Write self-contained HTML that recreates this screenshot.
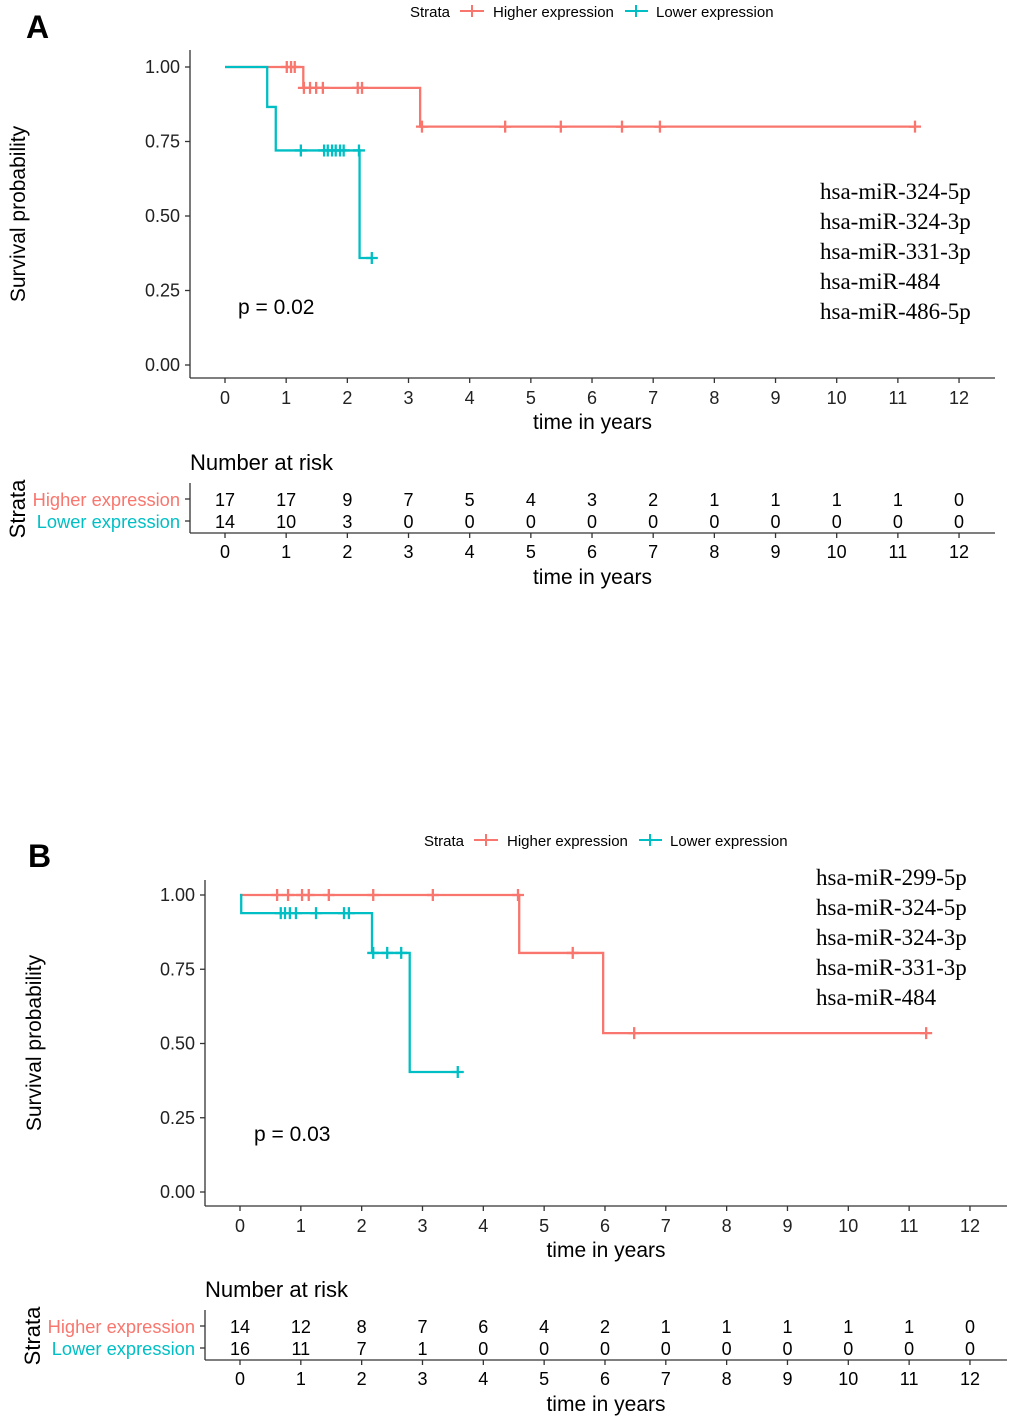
<!DOCTYPE html>
<html><head><meta charset="utf-8"><style>
html,body{margin:0;padding:0;background:#fff;}
svg{display:block;font-family:"Liberation Sans",Arial,sans-serif;}
</style></head><body>
<svg id="c" width="1020" height="1420" viewBox="0 0 1020 1420" xmlns="http://www.w3.org/2000/svg"></svg>
<script>
// ---- Panel A data ----
const aHighSteps = [[0,1.0],[1.28,0.93],[3.19,0.80]];
const aHighEnd = 11.28;
const aHighCensor = [[1.01,1.0],[1.08,1.0],[1.14,1.0],[1.29,0.93],[1.39,0.93],[1.49,0.93],[1.60,0.93],[2.17,0.93],[2.24,0.93],[3.22,0.80],[4.58,0.80],[5.49,0.80],[6.49,0.80],[7.11,0.80],[11.28,0.80]];
const aLowSteps = [[0,1.0],[0.69,0.866],[0.83,0.72],[2.2,0.359]];
const aLowEnd = 2.40;
const aLowCensor = [[1.24,0.72],[1.62,0.72],[1.68,0.72],[1.75,0.72],[1.81,0.72],[1.88,0.72],[1.94,0.72],[2.19,0.72],[2.40,0.359]];
const aRiskHigh = [17,17,9,7,5,4,3,2,1,1,1,1,0];
const aRiskLow = [14,10,3,0,0,0,0,0,0,0,0,0,0];
const aGenes = ["hsa-miR-324-5p","hsa-miR-324-3p","hsa-miR-331-3p","hsa-miR-484","hsa-miR-486-5p"];
// ---- Panel B data ----
const bHighSteps = [[0,1.0],[4.59,0.805],[5.97,0.535]];
const bHighEnd = 11.28;
const bHighCensor = [[0.61,1],[0.79,1],[1.02,1],[1.13,1],[1.46,1],[2.19,1],[3.17,1],[4.57,1],[5.47,0.805],[6.48,0.535],[11.28,0.535]];
const bLowSteps = [[0,1.0],[0.02,0.939],[2.17,0.805],[2.79,0.404]];
const bLowEnd = 3.58;
const bLowCensor = [[0.67,0.939],[0.74,0.939],[0.82,0.939],[0.92,0.939],[1.25,0.939],[1.71,0.939],[1.79,0.939],[2.19,0.805],[2.42,0.805],[2.65,0.805],[3.58,0.404]];
const bRiskHigh = [14,12,8,7,6,4,2,1,1,1,1,1,0];
const bRiskLow = [16,11,7,1,0,0,0,0,0,0,0,0,0];
const bGenes = ["hsa-miR-299-5p","hsa-miR-324-5p","hsa-miR-324-3p","hsa-miR-331-3p","hsa-miR-484"];
const xTicks = [0,1,2,3,4,5,6,7,8,9,10,11,12];
const yTicks = [0,0.25,0.5,0.75,1.0];
const yTickLabels = ["0.00","0.25","0.50","0.75","1.00"];

const RED="#F8766D", CYAN="#00BFC4";
const svg=document.getElementById('c');
const NS="http://www.w3.org/2000/svg";
function el(tag,attrs,parent,text){const e=document.createElementNS(NS,tag);for(const k in attrs)e.setAttribute(k,attrs[k]);if(text!==undefined)e.textContent=text;(parent||svg).appendChild(e);return e;}

function panel(o){
  const g=el('g',{});
  
  
  const X=t=>o.x0+t*o.dx, Y=s=>o.y0-s*o.dy;
  const L=el('text',{x:o.letterX,y:o.letterY,'font-size':32,'font-weight':'bold'},g,o.letter);
  
  const lg=el('g',{'font-size':15},g);
  
  const lx=o.legX, ly=o.legY;
  el('text',{x:lx,y:ly},lg,'Strata');
  el('line',{x1:lx+50,x2:lx+74,y1:ly-6,y2:ly-6,stroke:RED,'stroke-width':2},lg);
  el('line',{x1:lx+62,x2:lx+62,y1:ly-12,y2:ly,stroke:RED,'stroke-width':2},lg);
  el('text',{x:lx+83,y:ly},lg,'Higher expression');
  el('line',{x1:lx+215,x2:lx+238,y1:ly-6,y2:ly-6,stroke:CYAN,'stroke-width':2},lg);
  el('line',{x1:lx+226,x2:lx+226,y1:ly-12,y2:ly,stroke:CYAN,'stroke-width':2},lg);
  el('text',{x:lx+246,y:ly},lg,'Lower expression');
  const ax=el('g',{stroke:'#333','stroke-width':1.3},g);
  
  el('line',{x1:o.ax,x2:o.ax,y1:o.axTop,y2:o.axY},ax);
  el('line',{x1:o.ax,x2:o.axRight,y1:o.axY,y2:o.axY},ax);
  yTicks.forEach((v,i)=>{
    el('line',{x1:o.ax-5,x2:o.ax,y1:Y(v),y2:Y(v)},ax);
    el('text',{x:o.ax-10,y:Y(v)+6,'text-anchor':'end','font-size':18,stroke:'none',fill:'#222'},g,yTickLabels[i]);
  });
  xTicks.forEach(t=>{
    el('line',{x1:X(t),x2:X(t),y1:o.axY,y2:o.axY+5},ax);
    el('text',{x:X(t),y:o.axY+26,'text-anchor':'middle','font-size':18,fill:'#222'},g,String(t));
  });
  el('text',{x:(o.ax+o.axRight)/2,y:o.axY+51,'text-anchor':'middle','font-size':21},g,'time in years');
  el('text',{transform:`translate(${o.ylabX},${(o.axTop+o.axY)/2}) rotate(-90)`,'text-anchor':'middle','font-size':21},g,'Survival probability');
  function curve(steps,end,censor,col,nm){
    let d=`M${X(steps[0][0])},${Y(steps[0][1])}`;
    for(let i=1;i<steps.length;i++){d+=` H${X(steps[i][0])} V${Y(steps[i][1])}`;}
    d+=` H${X(end)}`;
    const p=el('path',{d:d,fill:'none',stroke:col,'stroke-width':2.3},g);
    
    censor.forEach(c=>{
      const m=el('path',{d:`M${X(c[0])-6},${Y(c[1])} h12 M${X(c[0])},${Y(c[1])-6} v12`,stroke:col,'stroke-width':2.3},g);
      
    });
  }
  curve(o.hs,o.he,o.hc,RED,'higher-expression');
  curve(o.ls,o.le,o.lc,CYAN,'lower-expression');
  el('text',{x:o.pX,y:o.pY,'font-size':21},g,o.p);
  const gt=el('g',{'font-family':'"Liberation Serif","Times New Roman",serif','font-size':23},g);
  
  o.genes.forEach((s,i)=>el('text',{x:o.gX,y:o.gY+i*30},gt,s));
  const r=el('g',{},g);
  
  const R=o.rY;
  el('text',{x:o.ax,y:R,'font-size':22},r,'Number at risk');
  el('line',{x1:o.ax,x2:o.ax,y1:R+13,y2:R+63,stroke:'#333','stroke-width':1.3},r);
  el('line',{x1:o.ax,x2:o.axRight,y1:R+63,y2:R+63,stroke:'#333','stroke-width':1.3},r);
  el('line',{x1:o.ax-5,x2:o.ax,y1:R+29,y2:R+29,stroke:'#333','stroke-width':1.3},r);
  el('line',{x1:o.ax-5,x2:o.ax,y1:R+51,y2:R+51,stroke:'#333','stroke-width':1.3},r);
  el('text',{x:o.ax-10,y:R+36,'text-anchor':'end','font-size':18.3,fill:RED},r,'Higher expression');
  el('text',{x:o.ax-10,y:R+58,'text-anchor':'end','font-size':18.3,fill:CYAN},r,'Lower expression');
  el('text',{transform:`translate(${o.ax-165},${R+39}) rotate(-90)`,'text-anchor':'middle','font-size':22},r,'Strata');
  xTicks.forEach((t,i)=>{
    el('text',{x:X(t),y:R+36,'text-anchor':'middle','font-size':18},r,String(o.rh[i]));
    el('text',{x:X(t),y:R+58,'text-anchor':'middle','font-size':18},r,String(o.rl[i]));
    el('line',{x1:X(t),x2:X(t),y1:R+63,y2:R+68,stroke:'#333','stroke-width':1.3},r);
    el('text',{x:X(t),y:R+88,'text-anchor':'middle','font-size':18},r,String(t));
  });
  el('text',{x:(o.ax+o.axRight)/2,y:R+114,'text-anchor':'middle','font-size':21},r,'time in years');
}
panel({name:'panel-a',letter:'A',letterX:26,letterY:38,legX:410,legY:17,
  x0:225,dx:61.17,y0:365,dy:298,ax:190,axTop:50,axY:378,axRight:995,ylabX:25,
  hs:aHighSteps,he:aHighEnd,hc:aHighCensor,ls:aLowSteps,le:aLowEnd,lc:aLowCensor,
  p:'p = 0.02',pX:238,pY:314,genes:aGenes,gX:820,gY:199,rY:470,rh:aRiskHigh,rl:aRiskLow});
panel({name:'panel-b',letter:'B',letterX:28,letterY:867,legX:424,legY:846,
  x0:240,dx:60.83,y0:1192,dy:297,ax:205,axTop:880,axY:1206,axRight:1007,ylabX:41,
  hs:bHighSteps,he:bHighEnd,hc:bHighCensor,ls:bLowSteps,le:bLowEnd,lc:bLowCensor,
  p:'p = 0.03',pX:254,pY:1141,genes:bGenes,gX:816,gY:885,rY:1297,rh:bRiskHigh,rl:bRiskLow});
</script>
</body></html>
